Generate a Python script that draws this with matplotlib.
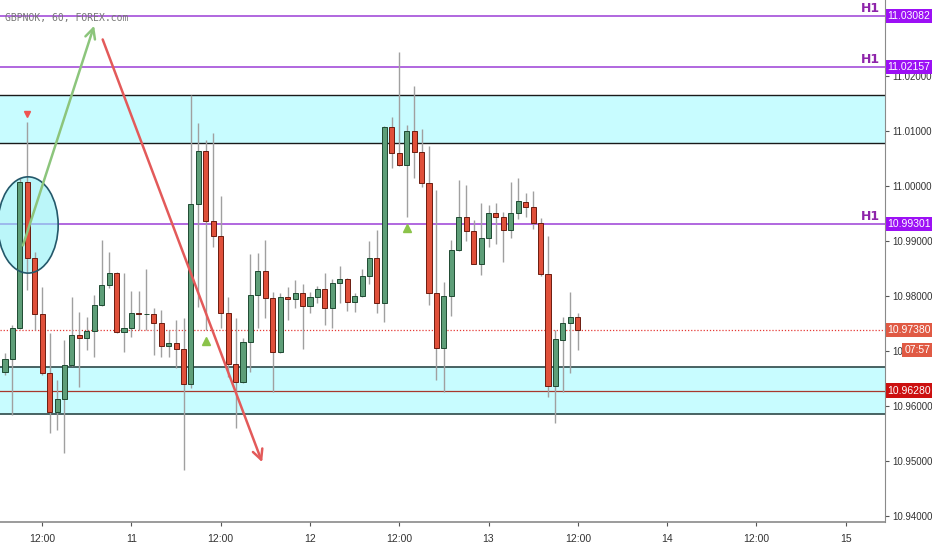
import matplotlib
matplotlib.use('Agg')
import matplotlib.pyplot as plt
import matplotlib.transforms as mtransforms
from matplotlib.patches import Ellipse

plt.rcParams['font.family'] = ['Liberation Sans Narrow', 'Liberation Sans', 'DejaVu Sans']

# GBPNOK, 60 min candles; t = hours since day 10 00:00
t0 = 7
opens = [10.9662, 10.9685, 10.9742, 11.0007, 10.9869, 10.9767, 10.9660, 10.9589, 10.9613, 10.9675,
         10.9729, 10.9724, 10.9736, 10.9784, 10.9820, 10.9842, 10.9735, 10.9742, 10.9769, 10.9767,
         10.9768, 10.9751, 10.9709, 10.9715, 10.9704, 10.9640, 10.9967, 11.0064, 10.9936, 10.9909,
         10.9769, 10.9676, 10.9644, 10.9716, 10.9802, 10.9845, 10.9796, 10.9698, 10.9798, 10.9795,
         10.9805, 10.9782, 10.9798, 10.9813, 10.9778, 10.9824, 10.9831, 10.9789, 10.9800, 10.9836,
         10.9869, 10.9787, 11.0107, 11.0060, 11.0038, 11.0100, 11.0062, 11.0005, 10.9805, 10.9705,
         10.9800, 10.9884, 10.9944, 10.9918, 10.9858, 10.9905, 10.9951, 10.9944, 10.9920, 10.9951,
         10.9971, 10.9962, 10.9933, 10.9840, 10.9636, 10.9720, 10.9751, 10.9762]
highs = [10.9696, 10.9747, 11.0015, 11.0116, 10.9880, 10.9816, 10.9733, 10.9647, 10.9720, 10.9798,
         10.9771, 10.9762, 10.9802, 10.9902, 10.9880, 10.9844, 10.9842, 10.9809, 10.9809, 10.9849,
         10.9778, 10.9775, 10.9738, 10.9756, 10.9760, 11.0165, 11.0115, 11.0084, 11.0096, 10.9982,
         10.9798, 10.9760, 10.9724, 10.9876, 10.9878, 10.9902, 10.9807, 10.9805, 10.9816, 10.9829,
         10.9822, 10.9807, 10.9818, 10.9842, 10.9831, 10.9855, 10.9833, 10.9805, 10.9849, 10.9900,
         10.9920, 11.0109, 11.0125, 11.0244, 11.0111, 11.0182, 11.0104, 11.0073, 10.9993, 10.9825,
         10.9902, 11.0011, 11.0002, 10.9938, 10.9969, 10.9965, 10.9969, 10.9953, 11.0007, 11.0015,
         10.9987, 10.9991, 10.9942, 10.9909, 10.9738, 10.9762, 10.9807, 10.9769]
lows = [10.9656, 10.9584, 10.9740, 10.9811, 10.9738, 10.9656, 10.9551, 10.9556, 10.9515, 10.9673,
        10.9635, 10.9702, 10.9689, 10.9782, 10.9815, 10.9733, 10.9698, 10.9725, 10.9738, 10.9738,
        10.9693, 10.9689, 10.9689, 10.9669, 10.9484, 10.9633, 10.9780, 10.9738, 10.9889, 10.9742,
        10.9653, 10.9560, 10.9642, 10.9662, 10.9742, 10.9760, 10.9625, 10.9696, 10.9756, 10.9778,
        10.9704, 10.9769, 10.9787, 10.9747, 10.9742, 10.9787, 10.9773, 10.9771, 10.9798, 10.9822,
        10.9769, 10.9753, 11.0033, 11.0036, 10.9944, 11.0015, 10.9998, 10.9784, 10.9647, 10.9625,
        10.9764, 10.9882, 10.9900, 10.9858, 10.9838, 10.9889, 10.9895, 10.9862, 10.9905, 10.9940,
        10.9944, 10.9922, 10.9836, 10.9616, 10.9569, 10.9625, 10.9660, 10.9702]
closes = [10.9685, 10.9742, 11.0007, 10.9869, 10.9767, 10.9660, 10.9589, 10.9613, 10.9675, 10.9729,
          10.9724, 10.9736, 10.9784, 10.9820, 10.9842, 10.9735, 10.9742, 10.9769, 10.9767, 10.9768,
          10.9751, 10.9709, 10.9715, 10.9704, 10.9640, 10.9967, 11.0064, 10.9936, 10.9909, 10.9769,
          10.9676, 10.9644, 10.9716, 10.9802, 10.9845, 10.9796, 10.9698, 10.9798, 10.9795, 10.9805,
          10.9782, 10.9798, 10.9813, 10.9778, 10.9824, 10.9831, 10.9789, 10.9800, 10.9836, 10.9869,
          10.9787, 11.0107, 11.0060, 11.0038, 11.0100, 11.0062, 11.0005, 10.9805, 10.9705, 10.9800,
          10.9884, 10.9944, 10.9918, 10.9858, 10.9905, 10.9951, 10.9944, 10.9920, 10.9951, 10.9973,
          10.9962, 10.9933, 10.9840, 10.9636, 10.9722, 10.9751, 10.9762, 10.9738]

h1_levels = [11.03082, 11.02157, 10.99301]
zone_top = (11.0078, 11.0165)
zone_bottom = (10.9585, 10.9671)
support_level = 10.96280
last_price = 10.97380
countdown = '07:57'

y_ticks = [10.94, 10.95, 10.96, 10.97, 10.98, 10.99, 11.00, 11.01, 11.02]
x_ticks = [12, 24, 36, 48, 60, 72, 84, 96, 108, 120]
x_labels = ['12:00', '11', '12:00', '12', '12:00', '13', '12:00', '14', '12:00', '15']

# drawings: (hour, price)
green_arrow = [(9.3, 10.9887), (19.1, 11.0296)]
red_arrow = [(20.0, 11.0271), (41.7, 10.9493)]
ellipse_center = (10.1, 10.9929)
ellipse_size = (8.1, 0.0175)
sell_marks = [3]
buy_marks = [27, 54]

GREEN, GREEN_EDGE = '#5e9e78', '#1f4a32'
RED, RED_EDGE = '#e0503a', '#6b1c10'
PURPLE = '#9b3fd6'
PURPLE_LABEL = '#9c10f5'

fig = plt.figure(figsize=(9.32, 5.5), dpi=100)
ax = fig.add_axes([0, 28 / 550, 885 / 932, 522 / 550])

ts = [t0 + i for i in range(len(opens))]

# zones
ax.axhspan(*zone_top, color='#c8fcff', lw=0, zorder=0)
ax.axhline(zone_top[0], color='#1a1a1a', lw=1.0, zorder=1)
ax.axhline(zone_top[1], color='#1a1a1a', lw=1.0, zorder=1)
ax.axhspan(*zone_bottom, color='#c8fcff', lw=0, zorder=0)
ax.axhline(zone_bottom[0], color='#3b5656', lw=1.3, zorder=1)
ax.axhline(zone_bottom[1], color='#3b5656', lw=1.3, zorder=1)
ax.axhline(support_level, color='#a8382c', lw=0.9, zorder=1)

for lvl in h1_levels:
    ax.axhline(lvl, color=PURPLE, lw=1.1, zorder=1)

ax.axhline(last_price, color='#e53935', lw=0.9, ls=(0, (1, 1.5)), zorder=1)

# ellipse highlight
ax.add_patch(Ellipse(ellipse_center, ellipse_size[0], ellipse_size[1],
                     fc='#8ff0f5', alpha=0.6, ec='none', zorder=2))
ax.add_patch(Ellipse(ellipse_center, ellipse_size[0], ellipse_size[1],
                     fc='none', ec='#24586a', lw=1.2, zorder=4))

# candles
for t, o, h, l, c in zip(ts, opens, highs, lows, closes):
    up = c >= o
    ax.vlines(t, l, h, color='#a0a0a0', lw=1.0, zorder=3)
    ax.bar(t, max(abs(c - o), 0.00005), bottom=min(o, c), width=0.68,
           color=GREEN if up else RED, edgecolor=GREEN_EDGE if up else RED_EDGE,
           lw=0.7, zorder=3)

# signal triangles
down_off = mtransforms.offset_copy(ax.transData, fig=fig, x=0, y=6, units='points')
up_off = mtransforms.offset_copy(ax.transData, fig=fig, x=0, y=-8, units='points')
for i in sell_marks:
    ax.plot(ts[i], highs[i], marker='v', ms=5, color='#ef5350', transform=down_off, zorder=5)
for i in buy_marks:
    ax.plot(ts[i], lows[i], marker='^', ms=6, color='#8bc34a', transform=up_off, zorder=5)

# arrows
ax.annotate('', xy=green_arrow[1], xytext=green_arrow[0],
            arrowprops=dict(arrowstyle='->', color='#8cc57c', lw=1.8, mutation_scale=18), zorder=6)
ax.annotate('', xy=red_arrow[1], xytext=red_arrow[0],
            arrowprops=dict(arrowstyle='->', color='#e35a5a', lw=1.8, mutation_scale=18), zorder=6)

ax.set_xlim(6.33, 125.3)
ax.set_ylim(10.9389, 11.0338)

# axes style
for s in ['top', 'left']:
    ax.spines[s].set_visible(False)
ax.spines['right'].set_color('#8a8a8a')
ax.spines['bottom'].set_color('#8a8a8a')
ax.spines['bottom'].set_linewidth(1.2)
ax.yaxis.tick_right()
ax.set_yticks(y_ticks)
ax.set_yticklabels([f'{v:.5f}' for v in y_ticks])
ax.set_xticks(x_ticks)
ax.set_xticklabels(x_labels)
ax.tick_params(axis='both', colors='#555555', labelcolor='#333333', labelsize=7,
               length=3, width=0.8, pad=2)
ax.tick_params(axis='x', pad=6, labelsize=7.5)

ax.text(5 / 885, 1 - 18 / 522, 'GBPNOK, 60, FOREX.com', transform=ax.transAxes,
        fontsize=7, color='#777777', family='DejaVu Sans Mono', va='center', ha='left', zorder=7)

# price-scale labels
lbl = mtransforms.blended_transform_factory(ax.transAxes, ax.transData)
box = dict(boxstyle='square,pad=0.2', ec='none')
for lvl in h1_levels:
    ax.text(0.994, lvl + 0.0003, 'H1', transform=lbl, ha='right', va='bottom',
            color='#8e24aa', fontsize=9, fontweight='bold', family='DejaVu Sans', zorder=7)
    ax.text(1.003, lvl, f'{lvl:.5f}', transform=lbl, ha='left', va='center', color='white',
            fontsize=7.5, clip_on=False, zorder=10, bbox=dict(box, fc=PURPLE_LABEL))
ax.text(1.003, support_level, f'{support_level:.5f}', transform=lbl, ha='left', va='center',
        color='white', fontsize=7.5, clip_on=False, zorder=10, bbox=dict(box, fc='#cc1010'))
ax.text(1.003, last_price, f'{last_price:.5f}', transform=lbl, ha='left', va='center',
        color='white', fontsize=7.5, clip_on=False, zorder=10, bbox=dict(box, fc='#e05a44'))
ax.text(1.022, last_price - 0.0037, countdown, transform=lbl, ha='left', va='center',
        color='white', fontsize=7.5, clip_on=False, zorder=10, bbox=dict(box, fc='#e05a44'))

fig.savefig('out.png', dpi=100, facecolor='white')
